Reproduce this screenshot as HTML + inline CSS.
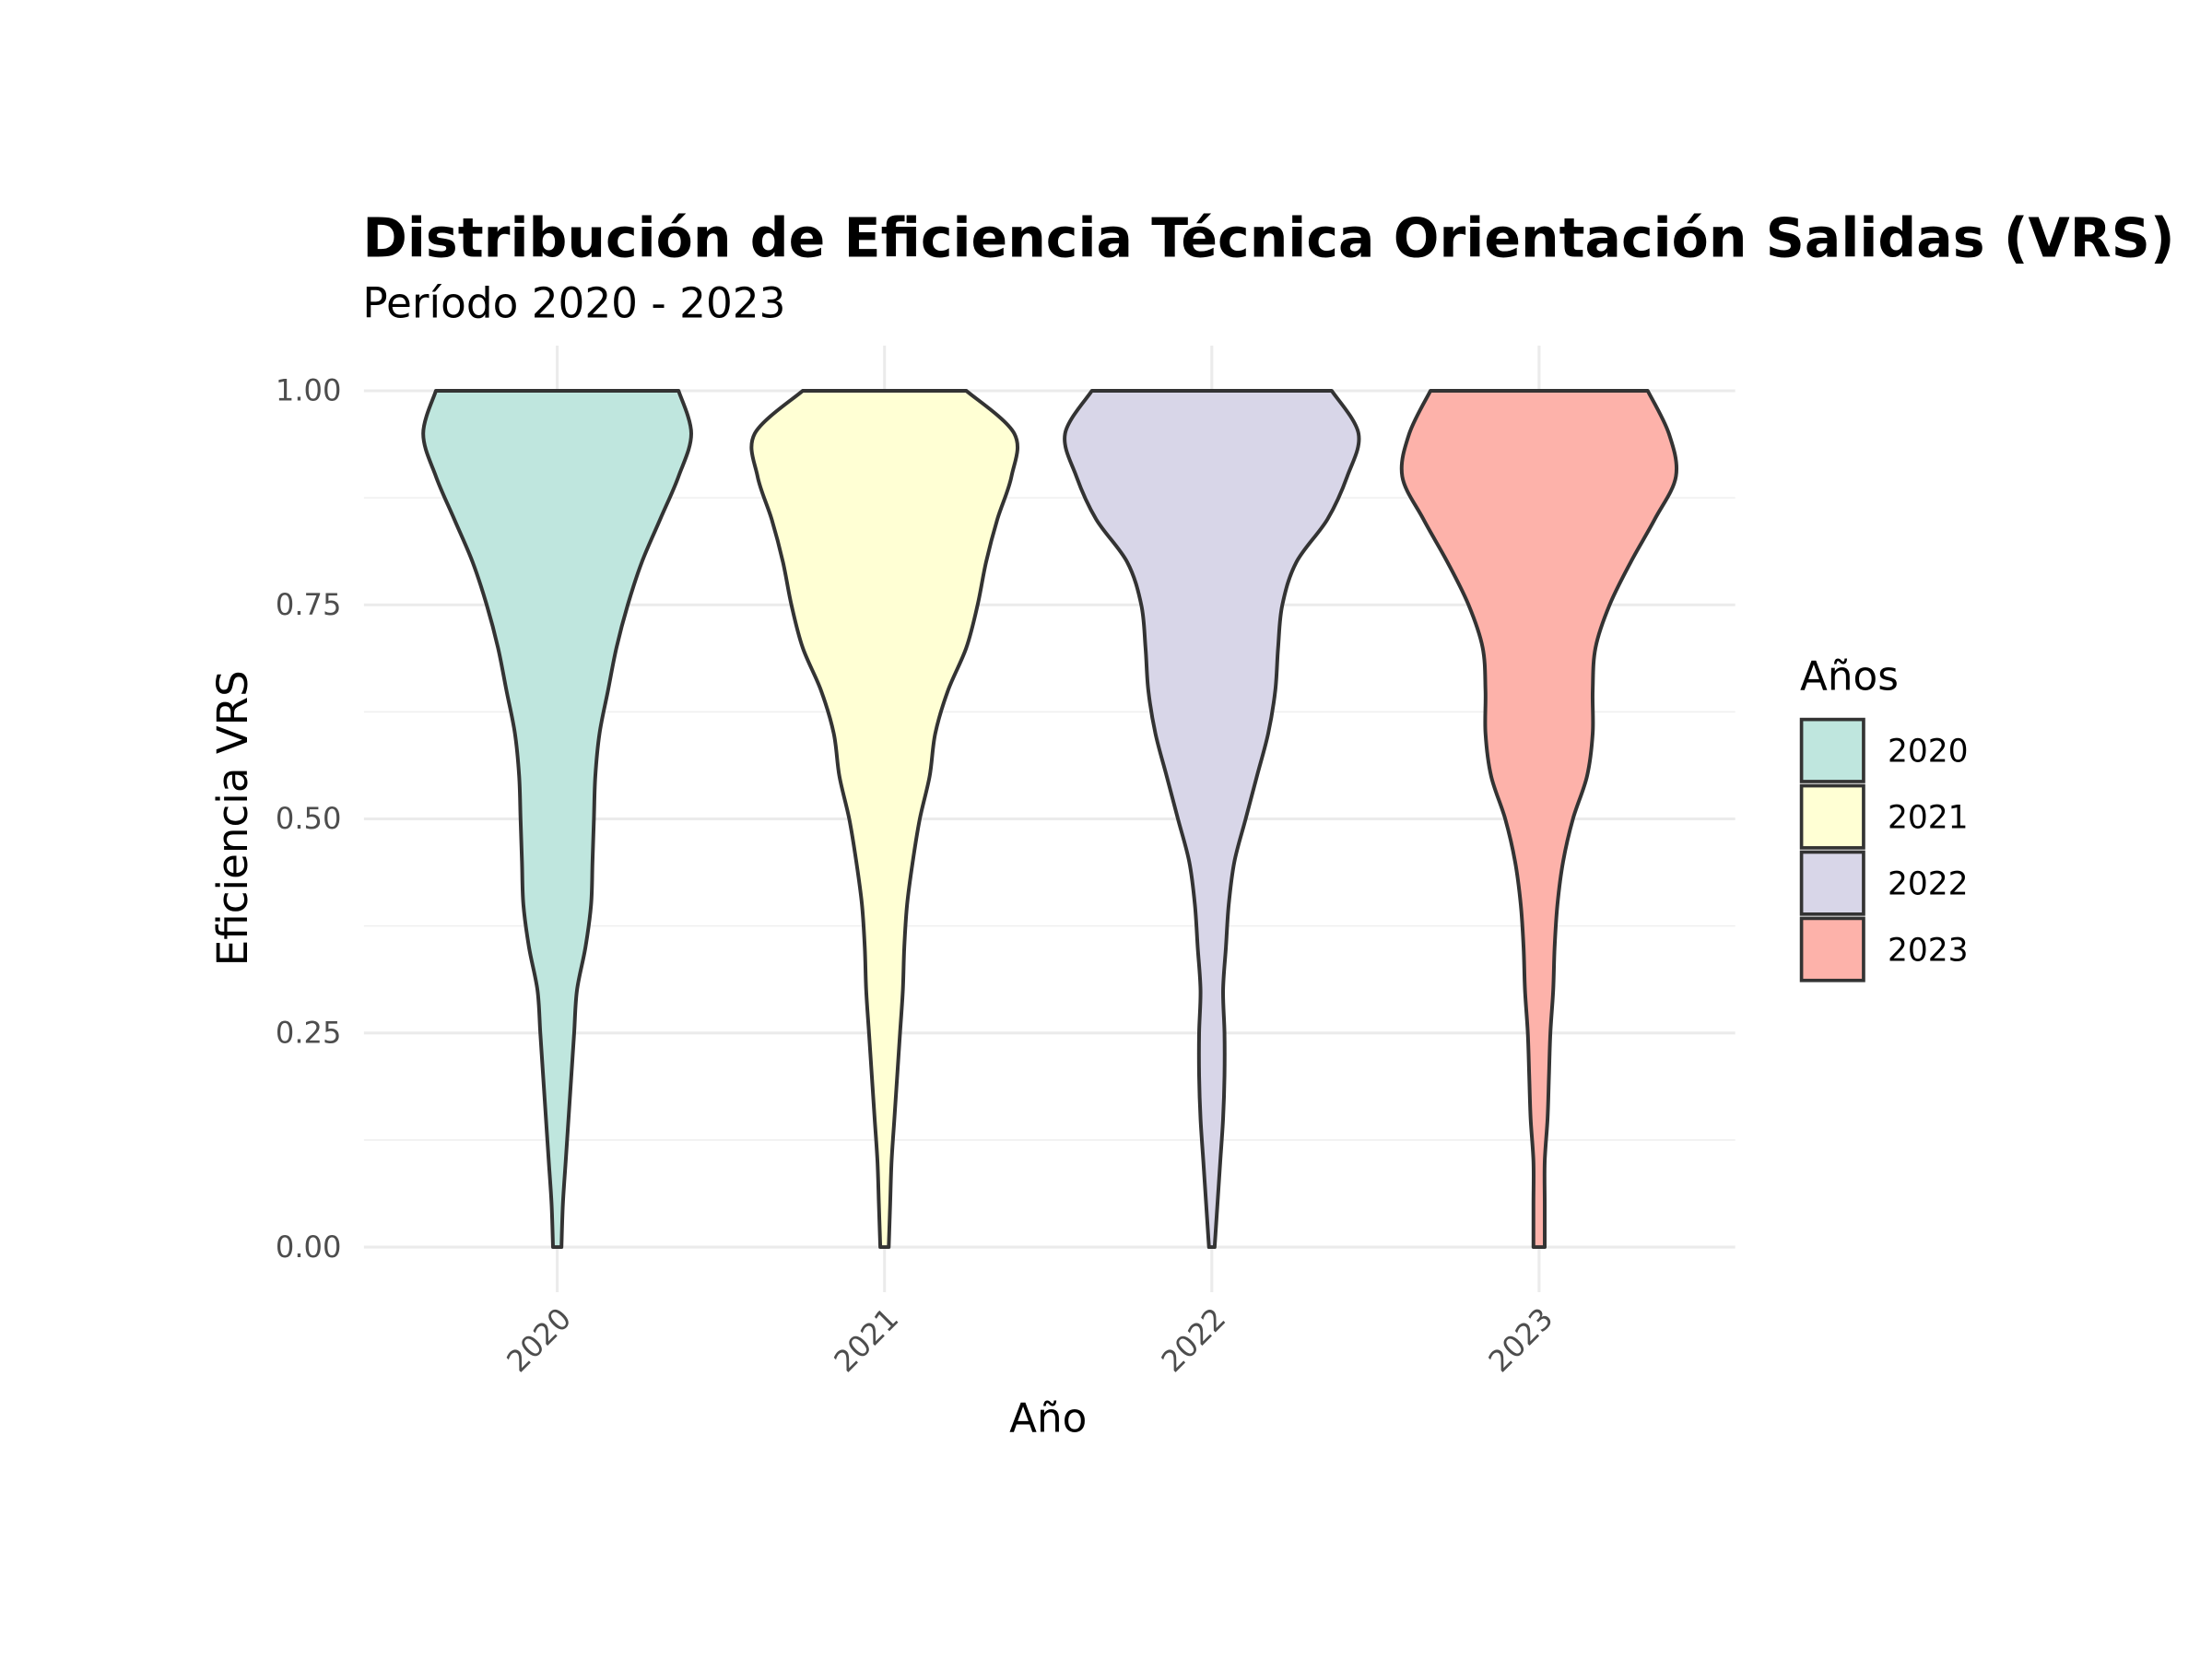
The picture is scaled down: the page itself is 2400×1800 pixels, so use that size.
<!DOCTYPE html>
<html><head><meta charset="utf-8"><style>
html,body{margin:0;padding:0;background:#fff;}
svg{display:block;font-family:"DejaVu Sans","Liberation Sans",sans-serif;}
</style></head><body>
<svg id="chart" width="2400" height="1800" viewBox="0 0 1568 1176" xmlns="http://www.w3.org/2000/svg">
<rect width="1568" height="1176" fill="#fff"/>
<g id="grid"></g>
<g id="violins"></g>
<g id="axes"></g>
<text x="257" y="182" font-size="38.2" font-weight="bold" fill="#000">Distribución de Eficiencia Técnica Orientación Salidas (VRS)</text>
<text x="257" y="225" font-size="29.6" fill="#000">Período 2020 - 2023</text>
<text x="743" y="1015" font-size="28.5" text-anchor="middle" fill="#000">Año</text>
<text transform="translate(175,580) rotate(-90)" font-size="29.5" text-anchor="middle" fill="#000">Eficiencia VRS</text>
<text x="1276" y="489" font-size="28.5" fill="#000">Años</text>
<g id="legend"></g>
</svg>
<script>
const categories = ["2020","2021","2022","2023"];
const yTicks = [0, 0.25, 0.5, 0.75, 1.0];
const yTickLabels = ["0.00","0.25","0.50","0.75","1.00"];
const densityLevels = [0,0.05,0.1,0.15,0.2,0.25,0.3,0.35,0.4,0.45,0.5,0.55,0.6,0.65,0.7,0.75,0.8,0.85,0.9,0.95,1.0];
const width2020 = [3,4,6,8,10,12,14,20,24,25,26,27,30,36,42,50,60,73,86,95,86];
const width2021 = [3,4,5,7,9,11,13,14,16,20,25,32,36,45,58,66,72,80,90,92,58];
const width2022 = [2,4,6,8,9,9,8,10,12,16,24,32,40,45,47,50,60,82,96,104,85];
const width2023 = [4,4,4,6,7,8,10,11,13,17,24,34,38,38,40,50,65,82,97,92,77];
const fills = ["#bfe6de","#ffffd4","#d8d6e8","#fdb2aa"];
const NS="http://www.w3.org/2000/svg";
const px0=258, px1=1230, py0=884, py1=277;
const xScale = i => 395 + i*232;
const yScale = v => py0 - v*(py0-py1);
function mk(t,a,p){const e=document.createElementNS(NS,t);for(const k in a)e.setAttribute(k,a[k]);p.appendChild(e);return e;}
const grid=document.getElementById('grid'), axes=document.getElementById('axes');
for(let v=0.125; v<1; v+=0.25){
  const l=mk('line',{x1:px0,x2:px1,y1:yScale(v),y2:yScale(v),stroke:'#efefef','stroke-width':1},grid);
  
  
}
yTicks.forEach((v,i)=>{
  const l=mk('line',{x1:px0,x2:px1,y1:yScale(v),y2:yScale(v),stroke:'#ebebeb','stroke-width':2},grid);
  
  
  const t=mk('text',{x:242,y:yScale(v)+7,'text-anchor':'end','font-size':21,fill:'#4d4d4d'},axes);
  t.textContent=yTickLabels[i];
  
  
});
categories.forEach((c,i)=>{
  const l=mk('line',{x1:xScale(i),x2:xScale(i),y1:245,y2:916,stroke:'#ebebeb','stroke-width':2},grid);
  
  
  const t=mk('text',{transform:`translate(${xScale(i)+11},${936}) rotate(-45)`,'text-anchor':'end','font-size':21,fill:'#4d4d4d'},axes);
  t.textContent=c;
  
  
});
const widths=[width2020,width2021,width2022,width2023];
function smooth(pts){
  let d=`M${pts[0][0]},${pts[0][1]}`;
  for(let i=0;i<pts.length-1;i++){
    const p0=pts[Math.max(0,i-1)],p1=pts[i],p2=pts[i+1],p3=pts[Math.min(pts.length-1,i+2)];
    const c1=[p1[0]+(p2[0]-p0[0])/6,p1[1]+(p2[1]-p0[1])/6];
    const c2=[p2[0]-(p3[0]-p1[0])/6,p2[1]-(p3[1]-p1[1])/6];
    d+=` C${c1[0]},${c1[1]} ${c2[0]},${c2[1]} ${p2[0]},${p2[1]}`;
  }
  return d;
}
const vg=document.getElementById('violins');
widths.forEach((w,i)=>{
  const cx=xScale(i);
  const right=densityLevels.map((v,k)=>[cx+w[k],yScale(v)]);
  const left=densityLevels.map((v,k)=>[cx-w[k],yScale(v)]).reverse();
  let d=smooth(right);
  d+=` L${left[0][0]},${left[0][1]}`;
  d+=smooth(left).replace(/^M[^ C]+/,'');
  d+=' Z';
  const p=mk('path',{d:d,fill:fills[i],stroke:'#333','stroke-width':2.6,'stroke-linejoin':'round'},vg);
  
  
});
const lg=document.getElementById('legend');
categories.forEach((c,i)=>{
  const y=510+i*47;
  const r=mk('rect',{x:1277,y:y,width:44,height:44,fill:fills[i],stroke:'#333','stroke-width':2.4},lg);
  
  
  const t=mk('text',{x:1338,y:y+30,'font-size':22.5,fill:'#000'},lg);
  t.textContent=c;
  
  
});
</script>
</body></html>
